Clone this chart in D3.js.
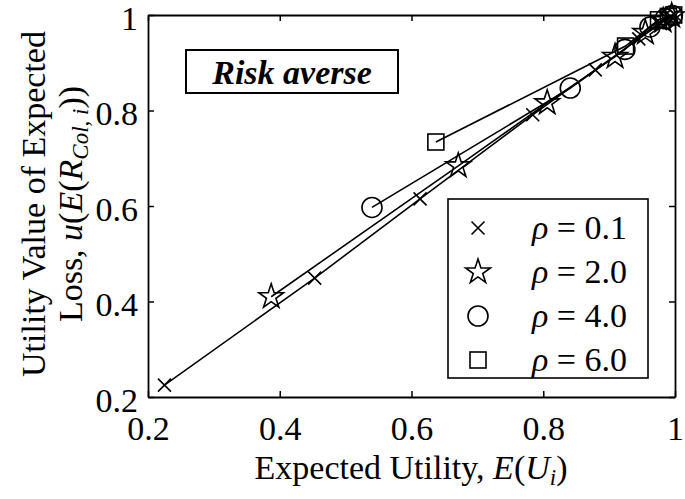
<!DOCTYPE html>
<html>
<head>
<meta charset="utf-8">
<script src="https://cdn.jsdelivr.net/npm/d3@7"></script>
<style>
  html, body { margin: 0; padding: 0; background: #fff; }
  svg { display: block; }
</style>
</head>
<body>
<svg id="chart" width="685" height="499" font-family="Liberation Serif"></svg>
<script>
// ---- data ----
const tickValues = [0.2, 0.4, 0.6, 0.8, 1];
const tickLabels = ["0.2", "0.4", "0.6", "0.8", "1"];
const seriesNames = ["0.1", "2.0", "4.0", "6.0"];
const seriesMarkers = ["x", "star", "circle", "square"];

const rho01X = [0.225, 0.453, 0.613, 0.784, 0.879, 0.945, 0.978, 0.994, 1.0];
const rho01Y = [0.225, 0.449, 0.615, 0.791, 0.885, 0.950, 0.982, 0.996, 1.0];
const rho20X = [0.387, 0.671, 0.806, 0.909, 0.955, 0.982, 0.995];
const rho20Y = [0.410, 0.684, 0.816, 0.913, 0.963, 0.988, 0.998];
const rho40X = [0.540, 0.841, 0.924, 0.962, 0.985, 0.996];
const rho40Y = [0.597, 0.847, 0.928, 0.975, 0.992, 0.999];
const rho60X = [0.637, 0.925, 0.975, 0.990, 0.998];
const rho60Y = [0.734, 0.935, 0.990, 0.997, 1.0];

const seriesX = [rho01X, rho20X, rho40X, rho60X];
const seriesY = [rho01Y, rho20Y, rho40Y, rho60Y];

// ---- layout ----
const FONT = "'Liberation Serif', 'Times New Roman', 'DejaVu Serif', serif";
const svg = d3.select("#chart");
const L = 148, R = 675, T = 15, B = 397;
const x = d3.scaleLinear().domain([0.2, 1]).range([L, R]);
const y = d3.scaleLinear().domain([0.2, 1]).range([B, T]);
const FS = 34;

function txt(sel) {
  return sel.attr("font-family", FONT).style("font-family", FONT).attr("fill", "#000");
}

function starPath(r) {
  const ri = r * 0.382;
  let p = [];
  for (let k = 0; k < 10; k++) {
    const a = -Math.PI / 2 + k * Math.PI / 5;
    const rr = k % 2 === 0 ? r : ri;
    p.push([rr * Math.cos(a), rr * Math.sin(a)]);
  }
  return "M" + p.map(d => d.join(",")).join("L") + "Z";
}

function drawMarker(g, type, cx, cy) {
  const s = g.append("g").attr("transform", `translate(${cx},${cy})`)
    .attr("fill", "none").attr("stroke", "#000").attr("stroke-width", 1.6);
  if (type === "x") {
    const h = 6.5;
    s.append("path").attr("d", `M${-h},${-h}L${h},${h}M${-h},${h}L${h},${-h}`);
  } else if (type === "star") {
    s.append("path").attr("d", starPath(13)).attr("stroke-linejoin", "miter");
  } else if (type === "circle") {
    s.append("circle").attr("r", 10);
  } else if (type === "square") {
    s.append("rect").attr("x", -8).attr("y", -8).attr("width", 16).attr("height", 16);
  }
}

// ---- axes ----
const fmt = (d) => tickLabels[tickValues.indexOf(d)];
const gx = svg.append("g").attr("transform", `translate(0,${B})`)
  .call(d3.axisBottom(x).tickValues(tickValues).tickFormat(fmt).tickSizeInner(-6).tickSizeOuter(0).tickPadding(19));
const gy = svg.append("g").attr("transform", `translate(${L},0)`)
  .call(d3.axisLeft(y).tickValues(tickValues).tickFormat(fmt).tickSizeInner(-6).tickSizeOuter(0).tickPadding(10));
const gt = svg.append("g").attr("transform", `translate(0,${T})`)
  .call(d3.axisTop(x).tickValues(tickValues).tickFormat("").tickSizeInner(-6).tickSizeOuter(0));
const gr = svg.append("g").attr("transform", `translate(${R},0)`)
  .call(d3.axisRight(y).tickValues(tickValues).tickFormat("").tickSizeInner(-6).tickSizeOuter(0));
[gx, gy, gt, gr].forEach(g => {
  g.attr("font-family", FONT).attr("font-size", FS);
  g.select(".domain").attr("stroke", "#000").attr("stroke-width", 1.8);
  g.selectAll(".tick line").attr("stroke", "#000").attr("stroke-width", 1.5);
  txt(g.selectAll(".tick text")).attr("font-size", FS).style("font-size", FS + "px");
});
gy.selectAll(".tick text").attr("dy", "0.42em");

// ---- series ----
const line = d3.line().x(d => x(d[0])).y(d => y(d[1]));
const plot = svg.append("g");
seriesX.forEach((xs, i) => {
  const pts = xs.map((v, j) => [v, seriesY[i][j]]);
  plot.append("path").attr("d", line(pts)).attr("fill", "none")
    .attr("stroke", "#000").attr("stroke-width", 1.6);
});
seriesX.forEach((xs, i) => {
  xs.forEach((v, j) => drawMarker(plot, seriesMarkers[i], x(v), y(seriesY[i][j])));
});

// ---- "Risk averse" box ----
svg.append("rect").attr("x", 186).attr("y", 50).attr("width", 212).attr("height", 43)
  .attr("fill", "#fff").attr("stroke", "#000").attr("stroke-width", 2);
txt(svg.append("text")).attr("x", 292).attr("y", 84).attr("text-anchor", "middle")
  .style("font-size", "34px").style("font-weight", "bold").style("font-style", "italic")
  .text("Risk averse");

// ---- legend ----
const lg = svg.append("g");
lg.append("rect").attr("x", 448).attr("y", 199).attr("width", 200).attr("height", 179)
  .attr("fill", "#fff").attr("stroke", "#000").attr("stroke-width", 1.6);
const rowY = [228, 272, 316, 360];
seriesNames.forEach((name, i) => {
  drawMarker(lg, seriesMarkers[i], 478, rowY[i]);
  const t = txt(lg.append("text")).attr("x", 532).attr("y", rowY[i] + 11).style("font-size", FS + "px");
  t.append("tspan").style("font-style", "italic").text("ρ");
  t.append("tspan").text(" = " + name);
});

// ---- axis titles ----
const xt = txt(svg.append("text")).attr("x", 411).attr("y", 479).attr("text-anchor", "middle")
  .style("font-size", FS + "px");
xt.append("tspan").text("Expected Utility, ");
xt.append("tspan").style("font-style", "italic").text("E");
xt.append("tspan").text("(");
xt.append("tspan").style("font-style", "italic").text("U");
xt.append("tspan").style("font-style", "italic").style("font-size", "23px").attr("dy", 6).text("i");
xt.append("tspan").attr("dy", -6).text(")");

txt(svg.append("text")).attr("transform", "translate(45,204) rotate(-90)").attr("text-anchor", "middle")
  .style("font-size", FS + "px").text("Utility Value  of Expected");
const yt2 = txt(svg.append("text")).attr("transform", "translate(82,204) rotate(-90)").attr("text-anchor", "middle")
  .style("font-size", FS + "px");
yt2.append("tspan").text("Loss, ");
yt2.append("tspan").style("font-style", "italic").text("u");
yt2.append("tspan").text("(");
yt2.append("tspan").style("font-style", "italic").text("E");
yt2.append("tspan").text("(");
yt2.append("tspan").style("font-style", "italic").text("R");
yt2.append("tspan").style("font-style", "italic").style("font-size", "23px").attr("dy", 6).text("Col, i");
yt2.append("tspan").attr("dy", -6).text("))");
</script>
</body>
</html>
